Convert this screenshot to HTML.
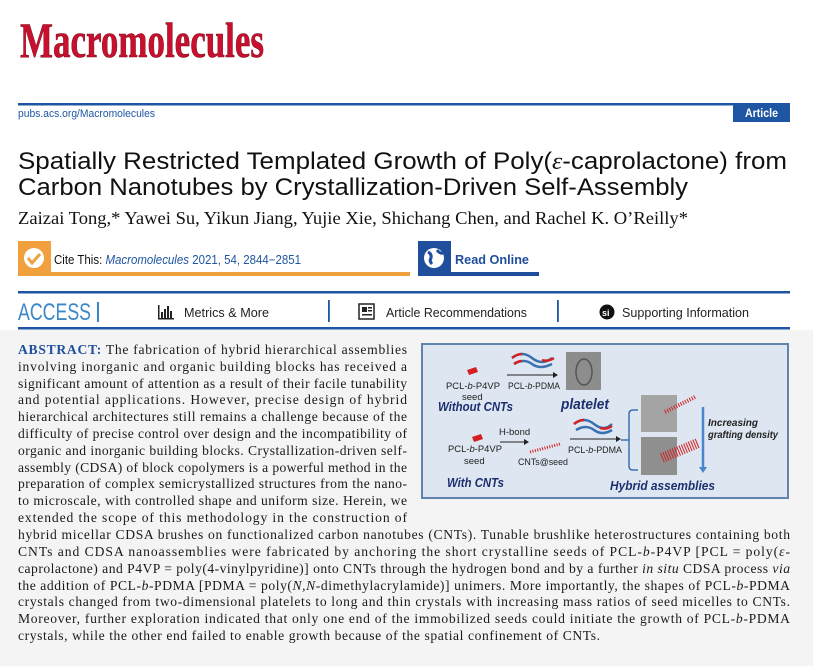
<!DOCTYPE html>
<html><head><meta charset="utf-8"><style>
html,body{margin:0;padding:0;background:#fff;}
svg{display:block;}
.ab{font-family:"Liberation Serif",serif;font-size:13.6px;fill:#1a1a1a;}
.sf{font-family:"Liberation Sans",sans-serif;}
</style></head><body>
<svg width="813" height="666" viewBox="0 0 813 666" xmlns="http://www.w3.org/2000/svg">
<rect x="0" y="0" width="813" height="666" fill="#fff"/>
<rect x="0" y="330" width="813" height="336" fill="#f4f4f4"/>
<text x="20" y="57" font-family="Liberation Serif,serif" font-weight="bold" font-size="50" fill="#c8102e" stroke="#7a0a1c" stroke-width="0.6" textLength="244" lengthAdjust="spacingAndGlyphs">Macromolecules</text>
<rect x="18" y="103" width="772" height="2.5" fill="#1f56a3"/>
<text x="18" y="117" class="sf" font-size="11" fill="#1f56a3" textLength="137" lengthAdjust="spacingAndGlyphs">pubs.acs.org/Macromolecules</text>
<rect x="733" y="103" width="57" height="19" fill="#1f56a3"/>
<text x="745" y="117" class="sf" font-size="12" font-weight="bold" fill="#fff" textLength="33" lengthAdjust="spacingAndGlyphs">Article</text>
<g class="sf" font-size="24" fill="#111">
<text x="18" y="169" textLength="769" lengthAdjust="spacingAndGlyphs">Spatially Restricted Templated Growth of Poly(<tspan font-family="Liberation Serif,serif" font-style="italic">ε</tspan>-caprolactone) from</text>
<text x="18" y="195" textLength="670" lengthAdjust="spacingAndGlyphs">Carbon Nanotubes by Crystallization-Driven Self-Assembly</text>
</g>
<text x="18" y="224" font-family="Liberation Serif,serif" font-size="18" fill="#111" textLength="670" lengthAdjust="spacingAndGlyphs">Zaizai Tong,* Yawei Su, Yikun Jiang, Yujie Xie, Shichang Chen, and Rachel K. O’Reilly*</text>
<rect x="18" y="241" width="33" height="35" fill="#f0a03c"/>
<circle cx="34" cy="258" r="10" fill="#fff"/>
<path d="M28 258 l4 5 l8 -9" stroke="#f0a03c" stroke-width="3" fill="none"/>
<rect x="51" y="272" width="359" height="4" fill="#f0a03c"/>
<text x="54" y="264" class="sf" font-size="12.5" fill="#111" textLength="247" lengthAdjust="spacingAndGlyphs">Cite This: <tspan fill="#1f56a3" font-style="italic">Macromolecules</tspan><tspan fill="#1f56a3"> 2021, 54, 2844−2851</tspan></text>
<rect x="418" y="241" width="33" height="35" fill="#1f4e9c"/>
<circle cx="434" cy="258" r="10" fill="#fff"/>
<path d="M428 252 q4 2 3 6 q-2 3 1 6 M437 250 q3 4 6 3" stroke="#1f4e9c" stroke-width="3" fill="none"/>
<rect x="451" y="272" width="88" height="4" fill="#1f4e9c"/>
<text x="455" y="264" class="sf" font-size="13" font-weight="bold" fill="#1f4e9c" textLength="74" lengthAdjust="spacingAndGlyphs">Read Online</text>
<rect x="18" y="291" width="772" height="2.5" fill="#1f56a3"/>
<rect x="18" y="327" width="772" height="2.5" fill="#1f56a3"/>
<text x="18" y="320" class="sf" font-size="24" fill="#3a86c8" textLength="73" lengthAdjust="spacingAndGlyphs">ACCESS</text>
<rect x="97" y="302" width="2" height="20" fill="#3a86c8"/>
<g fill="#222"><rect x="158" y="305" width="1.5" height="14"/><rect x="161" y="312" width="2" height="7"/><rect x="164" y="309" width="2" height="10"/><rect x="167" y="306" width="2" height="13"/><rect x="170" y="311" width="2" height="8"/><rect x="158" y="318" width="16" height="1.5"/></g>
<text x="184" y="317" class="sf" font-size="12.5" fill="#222" textLength="85" lengthAdjust="spacingAndGlyphs">Metrics &amp; More</text>
<rect x="328" y="300" width="1.8" height="22" fill="#1f56a3"/>
<rect x="359" y="304" width="15" height="15" fill="none" stroke="#222" stroke-width="1.5"/>
<rect x="362" y="307" width="5" height="5" fill="#222"/><rect x="368" y="307" width="4" height="1.5" fill="#222"/><rect x="368" y="310" width="4" height="1.5" fill="#222"/><rect x="362" y="314" width="10" height="1.5" fill="#222"/>
<text x="386" y="317" class="sf" font-size="12.5" fill="#222" textLength="141" lengthAdjust="spacingAndGlyphs">Article Recommendations</text>
<rect x="557" y="300" width="1.8" height="22" fill="#1f56a3"/>
<circle cx="607" cy="312" r="7.5" fill="#111"/>
<text x="602" y="316" class="sf" font-size="9" font-weight="bold" fill="#fff">si</text>
<text x="622" y="317" class="sf" font-size="12.5" fill="#222" textLength="127" lengthAdjust="spacingAndGlyphs">Supporting Information</text>
<rect x="422" y="344" width="366" height="154" fill="#dde6f1" stroke="#6283ad" stroke-width="2"/>
<g class="sf" fill="#222" font-size="9.5">
<path d="M467 370 l9 -3 l2 5 l-9 3z" fill="#d42020"/>
<text x="446" y="389" textLength="54" lengthAdjust="spacingAndGlyphs">PCL-<tspan font-style="italic">b</tspan>-P4VP</text>
<text x="462" y="400">seed</text>
<text x="438" y="411" font-weight="bold" font-style="italic" font-size="13" fill="#1c2f6e" textLength="75" lengthAdjust="spacingAndGlyphs">Without CNTs</text>
<path d="M512 358 q10 -8 20 0 t20 0 M514 364 q10 -6 18 0 q8 6 20 0" stroke="#3a70b0" stroke-width="2.5" fill="none"/>
<path d="M512 358 q5 -4 10 -4 M542 360 q6 2 12 -2 M514 364 q4 -3 8 -3" stroke="#d42020" stroke-width="2.5" fill="none"/>
<path d="M507 375 h46" stroke="#222" stroke-width="1"/><path d="M553 372 l5 3 l-5 3z" fill="#222"/>
<text x="508" y="389" textLength="52" lengthAdjust="spacingAndGlyphs">PCL-<tspan font-style="italic">b</tspan>-PDMA</text>
<rect x="566" y="352" width="35" height="38" fill="#8d8d8d"/>
<ellipse cx="584" cy="372" rx="8" ry="13" fill="none" stroke="#555" stroke-width="1.5"/>
<text x="561" y="409" font-weight="bold" font-style="italic" font-size="15" fill="#1c2f6e" textLength="48" lengthAdjust="spacingAndGlyphs">platelet</text>
<path d="M638 410 h-5 q-4 0 -4 4 v52 q0 4 4 4 h5 M629 440 h-8" stroke="#3a70b0" stroke-width="1.5" fill="none"/>
<rect x="641" y="395" width="36" height="37" fill="#a4a4a4"/>
<rect x="641" y="437" width="36" height="38" fill="#8f8f8f"/>
<path d="M665 412 l30 -15" stroke="#d42020" stroke-width="4" stroke-dasharray="1 1.5"/>
<path d="M662 458 l36 -15" stroke="#d42020" stroke-width="10" stroke-dasharray="1 1.5"/>
<path d="M703 407 v62" stroke="#4a86d0" stroke-width="2.5"/><path d="M699 467 l4 6 l4 -6z" fill="#4a86d0"/>
<text x="708" y="426" font-weight="bold" font-style="italic" font-size="10">Increasing</text>
<text x="708" y="438" font-weight="bold" font-style="italic" font-size="10" textLength="70" lengthAdjust="spacingAndGlyphs">grafting density</text>
<path d="M472 437 l9 -3 l2 5 l-9 3z" fill="#d42020"/>
<text x="448" y="452" textLength="54" lengthAdjust="spacingAndGlyphs">PCL-<tspan font-style="italic">b</tspan>-P4VP</text>
<text x="464" y="464">seed</text>
<text x="499" y="435">H-bond</text>
<path d="M500 442 h24" stroke="#222" stroke-width="1"/><path d="M524 439 l5 3 l-5 3z" fill="#222"/>
<path d="M530 452 l30 -8" stroke="#d42020" stroke-width="3" stroke-dasharray="1 1.5"/>
<text x="518" y="465" textLength="50" lengthAdjust="spacingAndGlyphs">CNTs@seed</text>
<path d="M574 424 q10 -8 20 0 t18 0 M576 430 q10 -6 18 0 q8 6 18 0" stroke="#3a70b0" stroke-width="2.5" fill="none"/>
<path d="M574 424 q5 -4 10 -4 M600 428 q6 2 12 -2" stroke="#d42020" stroke-width="2.5" fill="none"/>
<path d="M570 439 h46" stroke="#222" stroke-width="1"/><path d="M616 436 l5 3 l-5 3z" fill="#222"/>
<text x="568" y="453" textLength="54" lengthAdjust="spacingAndGlyphs">PCL-<tspan font-style="italic">b</tspan>-PDMA</text>
<text x="447" y="487" font-weight="bold" font-style="italic" font-size="13" fill="#1c2f6e" textLength="57" lengthAdjust="spacingAndGlyphs">With CNTs</text>
<text x="610" y="490" font-weight="bold" font-style="italic" font-size="13" fill="#1c2f6e" textLength="105" lengthAdjust="spacingAndGlyphs">Hybrid assemblies</text>
</g>
<g class="ab">
<text x="18" y="354" textLength="389" lengthAdjust="spacing"><tspan font-weight="bold" fill="#1f4e9c">ABSTRACT:</tspan> The fabrication of hybrid hierarchical assemblies</text>
<text x="18" y="371" textLength="389" lengthAdjust="spacing">involving inorganic and organic building blocks has received a</text>
<text x="18" y="388" textLength="389" lengthAdjust="spacing">significant amount of attention as a result of their facile tunability</text>
<text x="18" y="404" textLength="389" lengthAdjust="spacing">and potential applications. However, precise design of hybrid</text>
<text x="18" y="421" textLength="389" lengthAdjust="spacing">hierarchical architectures still remains a challenge because of the</text>
<text x="18" y="438" textLength="389" lengthAdjust="spacing">difficulty of precise control over design and the incompatibility of</text>
<text x="18" y="455" textLength="389" lengthAdjust="spacing">organic and inorganic building blocks. Crystallization-driven self-</text>
<text x="18" y="472" textLength="389" lengthAdjust="spacing">assembly (CDSA) of block copolymers is a powerful method in the</text>
<text x="18" y="488" textLength="389" lengthAdjust="spacing">preparation of complex semicrystallized structures from the nano-</text>
<text x="18" y="505" textLength="389" lengthAdjust="spacing">to microscale, with controlled shape and uniform size. Herein, we</text>
<text x="18" y="522" textLength="389" lengthAdjust="spacing">extended the scope of this methodology in the construction of</text>
<text x="18" y="539" textLength="772" lengthAdjust="spacing">hybrid micellar CDSA brushes on functionalized carbon nanotubes (CNTs). Tunable brushlike heterostructures containing both</text>
<text x="18" y="556" textLength="772" lengthAdjust="spacing">CNTs and CDSA nanoassemblies were fabricated by anchoring the short crystalline seeds of PCL-<tspan font-style="italic">b</tspan>-P4VP [PCL = poly(<tspan font-style="italic">ε</tspan>-</text>
<text x="18" y="573" textLength="772" lengthAdjust="spacing">caprolactone) and P4VP = poly(4-vinylpyridine)] onto CNTs through the hydrogen bond and by a further <tspan font-style="italic">in situ</tspan> CDSA process <tspan font-style="italic">via</tspan></text>
<text x="18" y="590" textLength="772" lengthAdjust="spacing">the addition of PCL-<tspan font-style="italic">b</tspan>-PDMA [PDMA = poly(<tspan font-style="italic">N</tspan>,<tspan font-style="italic">N</tspan>-dimethylacrylamide)] unimers. More importantly, the shapes of PCL-<tspan font-style="italic">b</tspan>-PDMA</text>
<text x="18" y="606" textLength="772" lengthAdjust="spacing">crystals changed from two-dimensional platelets to long and thin crystals with increasing mass ratios of seed micelles to CNTs.</text>
<text x="18" y="623" textLength="772" lengthAdjust="spacing">Moreover, further exploration indicated that only one end of the immobilized seeds could initiate the growth of PCL-<tspan font-style="italic">b</tspan>-PDMA</text>
<text x="18" y="640" textLength="582" lengthAdjust="spacing">crystals, while the other end failed to enable growth because of the spatial confinement of CNTs.</text>
</g>
</svg>
</body></html>
